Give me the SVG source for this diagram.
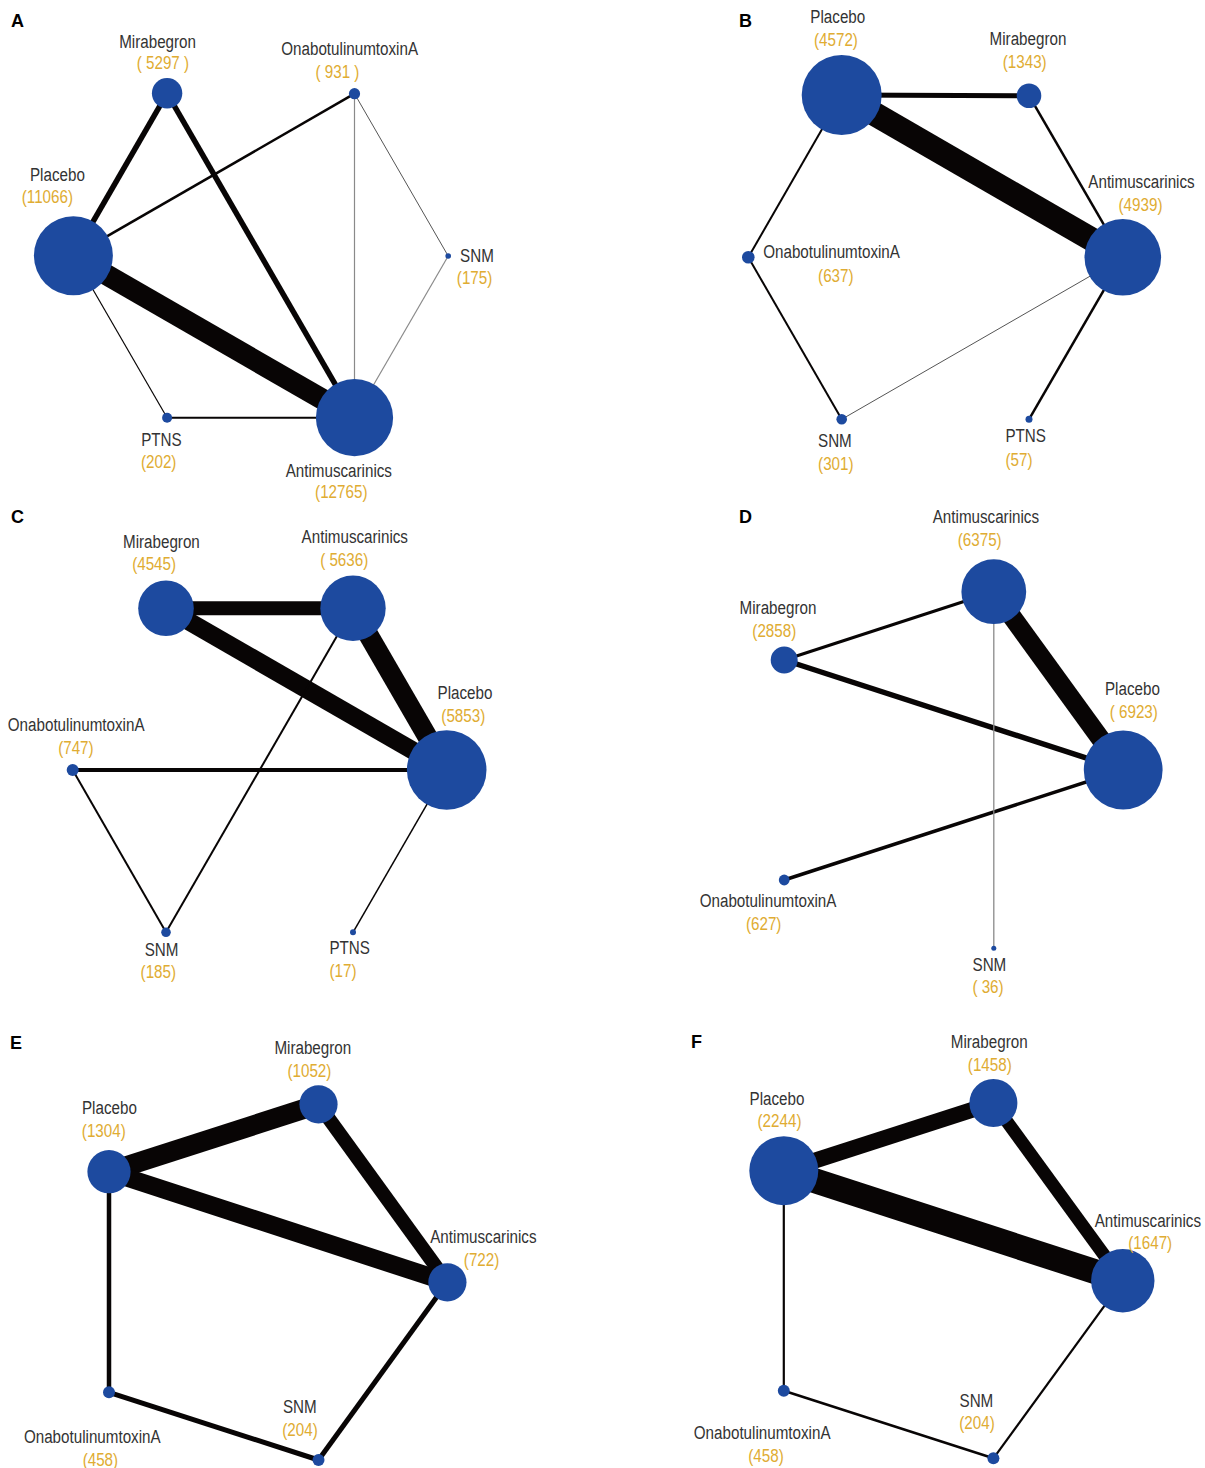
<svg xmlns="http://www.w3.org/2000/svg" width="1205" height="1468" viewBox="0 0 1205 1468">
<style>
.bg{fill:#fff}
.nd{fill:#1d4a9f}
.e{stroke:#080505;stroke-linecap:butt;fill:none}
.g1{stroke:#8a8a8a}
.g2{stroke:#555}
text{font-family:"Liberation Sans",Arial,Helvetica,sans-serif}
.n,.v{font-size:19px;text-anchor:middle;transform:scaleX(0.8);transform-box:fill-box;transform-origin:center}
.n{fill:#333}
.v{fill:#e0ac32}
.pl{font-size:18px;font-weight:bold;fill:#000}
</style>
<rect class="bg" x="0" y="0" width="1205" height="1468"/>

<!-- Panel A -->
<g id="panelA">
<text class="pl" x="11" y="27">A</text>
<g id="A-edges">
<line class="e" x1="73.4" y1="255.7" x2="167.1" y2="93.3" stroke-width="5.5"/>
<line class="e" x1="167.1" y1="93.3" x2="354.5" y2="417.7" stroke-width="5.5"/>
<line class="e" x1="73.4" y1="255.7" x2="354.5" y2="417.7" stroke-width="21"/>
<line class="e" x1="73.4" y1="255.7" x2="354.5" y2="93.7" stroke-width="2.5"/>
<line class="e g1" x1="354.5" y1="93.7" x2="354.5" y2="417.7" stroke-width="1.2"/>
<line class="e g2" x1="354.5" y1="93.7" x2="448.2" y2="256" stroke-width="1"/>
<line class="e g1" x1="448.2" y1="256" x2="354.5" y2="417.7" stroke-width="1.2"/>
<line class="e" x1="73.4" y1="255.7" x2="167.1" y2="417.7" stroke-width="1.2"/>
<line class="e" x1="167.1" y1="417.7" x2="354.5" y2="417.7" stroke-width="2"/>
</g>
<g id="A-Placebo"><circle class="nd" cx="73.4" cy="255.7" r="39.5"/><text class="n" x="57.4" y="181">Placebo</text><text class="v" x="47.4" y="203.3">(11066)</text></g>
<g id="A-Mirabegron"><circle class="nd" cx="167.1" cy="93.3" r="15.2"/><text class="n" x="157.6" y="47.7">Mirabegron</text><text class="v" x="162.9" y="69.3">( 5297 )</text></g>
<g id="A-Onabot"><circle class="nd" cx="354.5" cy="93.7" r="5.6"/><text class="n" x="349.6" y="55">OnabotulinumtoxinA</text><text class="v" x="337.5" y="78.3">( 931 )</text></g>
<g id="A-SNM"><circle class="nd" cx="448.2" cy="256" r="2.8"/><text class="n" x="477" y="261.7">SNM</text><text class="v" x="474.6" y="284">(175)</text></g>
<g id="A-PTNS"><circle class="nd" cx="167.1" cy="417.7" r="5"/><text class="n" x="161.4" y="445.7">PTNS</text><text class="v" x="158.7" y="468.3">(202)</text></g>
<g id="A-Antimuscarinics"><circle class="nd" cx="354.5" cy="417.7" r="38.6"/><text class="n" x="338.8" y="476.7">Antimuscarinics</text><text class="v" x="341.3" y="498.3">(12765)</text></g>
</g>

<!-- Panel B -->
<g id="panelB">
<text class="pl" x="739" y="27">B</text>
<g id="B-edges">
<line class="e" x1="841.7" y1="95" x2="1029" y2="95.7" stroke-width="5"/>
<line class="e" x1="841.7" y1="95" x2="1122.8" y2="257.3" stroke-width="24"/>
<line class="e" x1="1029" y1="95.7" x2="1122.8" y2="257.3" stroke-width="2.5"/>
<line class="e" x1="841.7" y1="95" x2="748.3" y2="257.3" stroke-width="2"/>
<line class="e" x1="748.3" y1="257.3" x2="841.7" y2="419.3" stroke-width="2"/>
<line class="e g2" x1="841.7" y1="419.3" x2="1122.8" y2="257.3" stroke-width="1"/>
<line class="e" x1="1122.8" y1="257.3" x2="1029" y2="419.3" stroke-width="2.5"/>
</g>
<g id="B-Placebo"><circle class="nd" cx="841.7" cy="95" r="40"/><text class="n" x="837.8" y="22.7">Placebo</text><text class="v" x="836" y="45.7">(4572)</text></g>
<g id="B-Mirabegron"><circle class="nd" cx="1029" cy="95.7" r="12.3"/><text class="n" x="1028" y="45">Mirabegron</text><text class="v" x="1024.7" y="68">(1343)</text></g>
<g id="B-Onabot"><circle class="nd" cx="748.3" cy="257.3" r="6.3"/><text class="n" x="831.5" y="258.3">OnabotulinumtoxinA</text><text class="v" x="835.8" y="281.7">(637)</text></g>
<g id="B-Antimuscarinics"><circle class="nd" cx="1122.8" cy="257.3" r="38.3"/><text class="n" x="1141.5" y="187.7">Antimuscarinics</text><text class="v" x="1140.5" y="210.7">(4939)</text></g>
<g id="B-SNM"><circle class="nd" cx="841.7" cy="419.3" r="5.3"/><text class="n" x="834.9" y="446.7">SNM</text><text class="v" x="835.8" y="470">(301)</text></g>
<g id="B-PTNS"><circle class="nd" cx="1029" cy="419.3" r="3.5"/><text class="n" x="1025.7" y="441.7">PTNS</text><text class="v" x="1019" y="465.7">(57)</text></g>
</g>

<!-- Panel C -->
<g id="panelC">
<text class="pl" x="11" y="523">C</text>
<g id="C-edges">
<line class="e" x1="166" y1="608.3" x2="353" y2="608.3" stroke-width="14"/>
<line class="e" x1="166" y1="608.3" x2="446.7" y2="770" stroke-width="18"/>
<line class="e" x1="353" y1="608.3" x2="446.7" y2="770" stroke-width="20"/>
<line class="e" x1="72.7" y1="770" x2="446.7" y2="770" stroke-width="4"/>
<line class="e" x1="72.7" y1="770" x2="166" y2="932.3" stroke-width="2"/>
<line class="e" x1="166" y1="932.3" x2="353" y2="608.3" stroke-width="2"/>
<line class="e" x1="446.7" y1="770" x2="353" y2="932.3" stroke-width="1.5"/>
</g>
<g id="C-Mirabegron"><circle class="nd" cx="166" cy="608.3" r="27.8"/><text class="n" x="161.4" y="548.3">Mirabegron</text><text class="v" x="154.1" y="570">(4545)</text></g>
<g id="C-Antimuscarinics"><circle class="nd" cx="353" cy="608.3" r="32.7"/><text class="n" x="354.8" y="543.3">Antimuscarinics</text><text class="v" x="344.2" y="565.7">( 5636)</text></g>
<g id="C-Placebo"><circle class="nd" cx="446.7" cy="770" r="39.8"/><text class="n" x="465" y="699.3">Placebo</text><text class="v" x="463.3" y="721.7">(5853)</text></g>
<g id="C-Onabot"><circle class="nd" cx="72.7" cy="770" r="6"/><text class="n" x="76.1" y="731">OnabotulinumtoxinA</text><text class="v" x="75.9" y="754.3">(747)</text></g>
<g id="C-SNM"><circle class="nd" cx="166" cy="932.3" r="4.8"/><text class="n" x="161.6" y="955.7">SNM</text><text class="v" x="158.3" y="978.3">(185)</text></g>
<g id="C-PTNS"><circle class="nd" cx="353" cy="932.3" r="3"/><text class="n" x="349.7" y="954">PTNS</text><text class="v" x="343" y="977.3">(17)</text></g>
</g>

<!-- Panel D -->
<g id="panelD">
<text class="pl" x="739" y="523">D</text>
<g id="D-edges">
<line class="e" x1="993.8" y1="591.7" x2="784.2" y2="660" stroke-width="3"/>
<line class="e" x1="784.2" y1="660" x2="1123.2" y2="770" stroke-width="5.5"/>
<line class="e" x1="993.8" y1="591.7" x2="1123.2" y2="770" stroke-width="19"/>
<line class="e" x1="784.2" y1="880" x2="1123.2" y2="770" stroke-width="3.5"/>
<line class="e g1" x1="993.8" y1="591.7" x2="993.8" y2="948.3" stroke-width="1.3"/>
</g>
<g id="D-Antimuscarinics"><circle class="nd" cx="993.8" cy="591.7" r="32.4"/><text class="n" x="985.9" y="522.7">Antimuscarinics</text><text class="v" x="979.7" y="545.7">(6375)</text></g>
<g id="D-Mirabegron"><circle class="nd" cx="784.2" cy="660" r="13.5"/><text class="n" x="778" y="614.3">Mirabegron</text><text class="v" x="774.3" y="637.3">(2858)</text></g>
<g id="D-Placebo"><circle class="nd" cx="1123.2" cy="770" r="39.4"/><text class="n" x="1132.4" y="695">Placebo</text><text class="v" x="1133.8" y="718.3">( 6923)</text></g>
<g id="D-Onabot"><circle class="nd" cx="784.2" cy="880" r="5.4"/><text class="n" x="768" y="906.7">OnabotulinumtoxinA</text><text class="v" x="763.7" y="930">(627)</text></g>
<g id="D-SNM"><circle class="nd" cx="993.8" cy="948.3" r="2.5"/><text class="n" x="989.4" y="970.7">SNM</text><text class="v" x="988" y="993.3">( 36)</text></g>
</g>

<!-- Panel E -->
<g id="panelE">
<text class="pl" x="10" y="1049">E</text>
<g id="E-edges">
<line class="e" x1="109" y1="1171.7" x2="318.5" y2="1104.3" stroke-width="20"/>
<line class="e" x1="109" y1="1171.7" x2="447.4" y2="1282.3" stroke-width="18"/>
<line class="e" x1="318.5" y1="1104.3" x2="447.4" y2="1282.3" stroke-width="14"/>
<line class="e" x1="109" y1="1171.7" x2="109" y2="1392.3" stroke-width="4.5"/>
<line class="e" x1="109" y1="1392.3" x2="318.5" y2="1460" stroke-width="5"/>
<line class="e" x1="318.5" y1="1460" x2="447.4" y2="1282.3" stroke-width="5"/>
</g>
<g id="E-Mirabegron"><circle class="nd" cx="318.5" cy="1104.3" r="19.1"/><text class="n" x="312.8" y="1054.3">Mirabegron</text><text class="v" x="309.4" y="1077.3">(1052)</text></g>
<g id="E-Placebo"><circle class="nd" cx="109" cy="1171.7" r="21.6"/><text class="n" x="109.4" y="1114.3">Placebo</text><text class="v" x="103.8" y="1136.7">(1304)</text></g>
<g id="E-Antimuscarinics"><circle class="nd" cx="447.4" cy="1282.3" r="19.1"/><text class="n" x="483.4" y="1242.7">Antimuscarinics</text><text class="v" x="481.6" y="1266">(722)</text></g>
<g id="E-Onabot"><circle class="nd" cx="109" cy="1392.3" r="6"/><text class="n" x="92.2" y="1443.3">OnabotulinumtoxinA</text><text class="v" x="100.4" y="1466">(458)</text></g>
<g id="E-SNM"><circle class="nd" cx="318.5" cy="1460" r="6"/><text class="n" x="299.8" y="1412.7">SNM</text><text class="v" x="300" y="1435.7">(204)</text></g>
</g>

<!-- Panel F -->
<g id="panelF">
<text class="pl" x="691" y="1048">F</text>
<g id="F-edges">
<line class="e" x1="783.8" y1="1170.7" x2="993.4" y2="1103" stroke-width="16"/>
<line class="e" x1="783.8" y1="1170.7" x2="1122.8" y2="1280.7" stroke-width="25"/>
<line class="e" x1="993.4" y1="1103" x2="1122.8" y2="1280.7" stroke-width="13"/>
<line class="e" x1="783.8" y1="1170.7" x2="783.8" y2="1390.7" stroke-width="2.2"/>
<line class="e" x1="783.8" y1="1390.7" x2="993.4" y2="1458.3" stroke-width="2.5"/>
<line class="e" x1="993.4" y1="1458.3" x2="1122.8" y2="1280.7" stroke-width="2.2"/>
</g>
<g id="F-Mirabegron"><circle class="nd" cx="993.4" cy="1103" r="24"/><text class="n" x="989.2" y="1048.3">Mirabegron</text><text class="v" x="989.8" y="1071">(1458)</text></g>
<g id="F-Placebo"><circle class="nd" cx="783.8" cy="1170.7" r="34.5"/><text class="n" x="777" y="1105">Placebo</text><text class="v" x="779.5" y="1127.3">(2244)</text></g>
<g id="F-Antimuscarinics"><circle class="nd" cx="1122.8" cy="1280.7" r="31.7"/><text class="n" x="1147.9" y="1226.7">Antimuscarinics</text><text class="v" x="1150.2" y="1249.3">(1647)</text></g>
<g id="F-Onabot"><circle class="nd" cx="783.8" cy="1390.7" r="6"/><text class="n" x="762.1" y="1439.3">OnabotulinumtoxinA</text><text class="v" x="766" y="1461.7">(458)</text></g>
<g id="F-SNM"><circle class="nd" cx="993.4" cy="1458.3" r="6"/><text class="n" x="976.4" y="1406.7">SNM</text><text class="v" x="977" y="1429.3">(204)</text></g>
</g>
</svg>
